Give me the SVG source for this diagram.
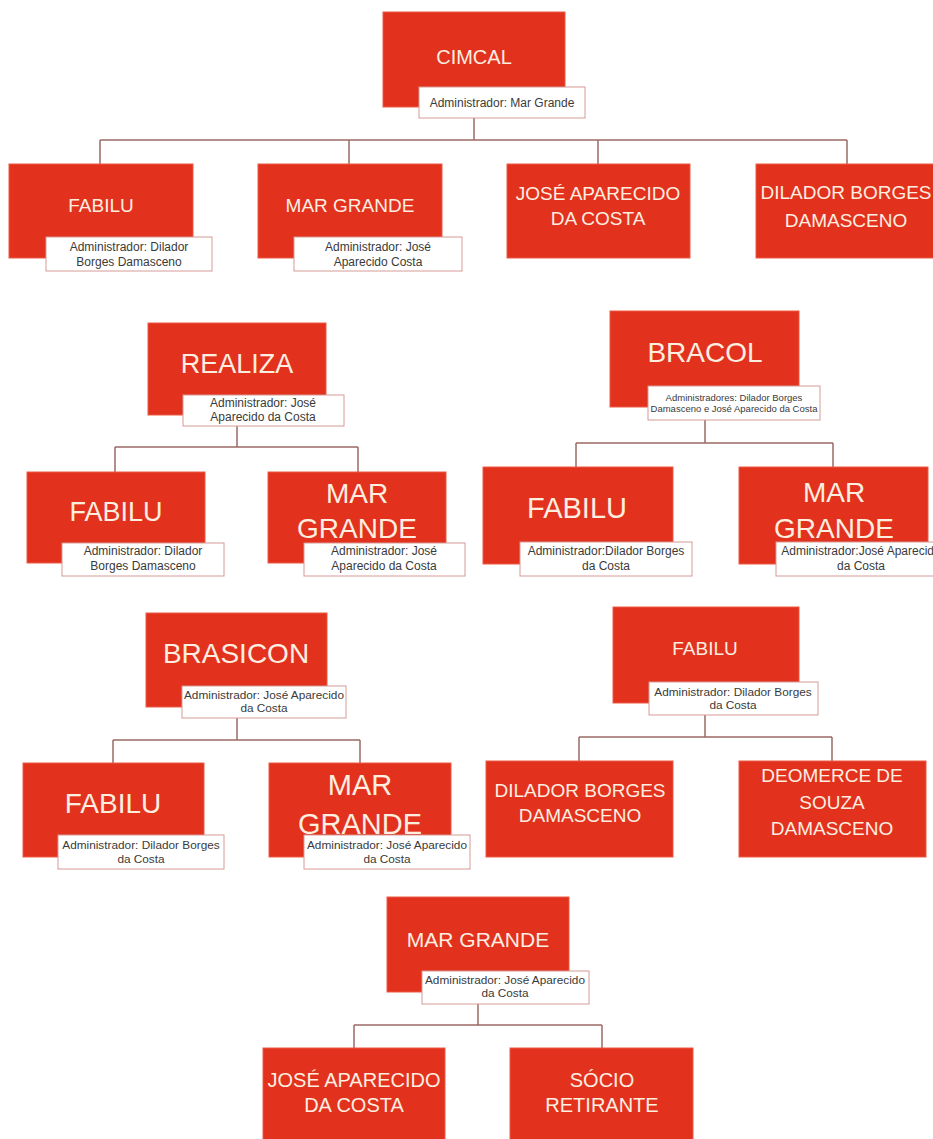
<svg xmlns="http://www.w3.org/2000/svg" width="933" height="1139" viewBox="0 0 933 1139">
<style>
.n{fill:#e2311d;stroke:#ec5a44;stroke-width:1}
.a{fill:#ffffff;stroke:#d69a98;stroke-width:1}
.t{fill:#fdeee0;font-family:"Liberation Sans",Arial,sans-serif;text-anchor:middle}
.s{fill:#3a3a3a;font-family:"Liberation Sans",Arial,sans-serif;text-anchor:middle}
.m{font-size:12px}
.k{font-size:11.8px}
.x{font-size:9.5px}
.c{fill:none;stroke:#9a6a64;stroke-width:1.5}
</style>
<rect width="933" height="1139" fill="#ffffff"/>
<g id="connectors">
<path class="c" d="M474 118V140M100 140H847M100 140V165M349 140V165M598 140V165M847 140V165"/>
<path class="c" d="M237 426V447M115 447H358M115 447V472M358 447V472"/>
<path class="c" d="M705 420V443M576 443H833M576 443V467M833 443V467"/>
<path class="c" d="M237 718V740M113 740H360M113 740V763M360 740V763"/>
<path class="c" d="M705 715V737M579 737H832M579 737V761M832 737V761"/>
<path class="c" d="M478 1004V1025M354 1025H602M354 1025V1048M602 1025V1048"/>
</g>
<g id="cimcal">
<rect class="n" x="383" y="12" width="182" height="95"/>
<text class="t" x="474" y="64" font-size="20">CIMCAL</text>
<rect class="a" x="419" y="87" width="166" height="31"/>
<text class="s m" x="502" y="107">Administrador: Mar Grande</text>
</g>
<g id="fabilu1">
<rect class="n" x="9" y="164" width="184" height="94"/>
<text class="t" x="101" y="212" font-size="19">FABILU</text>
<rect class="a" x="46" y="237" width="166" height="34"/>
<text class="s m" x="129" y="251">Administrador: Dilador</text>
<text class="s m" x="129" y="266">Borges Damasceno</text>
</g>
<g id="margrande1">
<rect class="n" x="258" y="164" width="184" height="94"/>
<text class="t" x="350" y="212" font-size="19">MAR GRANDE</text>
<rect class="a" x="294" y="237" width="168" height="34"/>
<text class="s m" x="378" y="251">Administrador: José</text>
<text class="s m" x="378" y="266">Aparecido Costa</text>
</g>
<g id="jose1">
<rect class="n" x="507" y="164" width="183" height="94"/>
<text class="t" x="598" y="200" font-size="19">JOSÉ APARECIDO</text>
<text class="t" x="598" y="225" font-size="19">DA COSTA</text>
</g>
<g id="dilador1">
<rect class="n" x="756" y="164" width="184" height="94"/>
<text class="t" x="846" y="199" font-size="19">DILADOR BORGES</text>
<text class="t" x="846" y="227" font-size="19">DAMASCENO</text>
</g>
<g id="realiza">
<rect class="n" x="148" y="323" width="178" height="92"/>
<text class="t" x="237" y="373" font-size="27">REALIZA</text>
<rect class="a" x="183" y="395" width="161" height="31"/>
<text class="s m" x="263" y="407">Administrador: José</text>
<text class="s m" x="263" y="421">Aparecido da Costa</text>
</g>
<g id="fabilu2">
<rect class="n" x="27" y="472" width="178" height="91"/>
<text class="t" x="116" y="521" font-size="27">FABILU</text>
<rect class="a" x="62" y="543" width="162" height="33"/>
<text class="s m" x="143" y="555">Administrador: Dilador</text>
<text class="s m" x="143" y="570">Borges Damasceno</text>
</g>
<g id="margrande2">
<rect class="n" x="268" y="472" width="178" height="91"/>
<text class="t" x="357" y="503" font-size="28">MAR</text>
<text class="t" x="357" y="538" font-size="28">GRANDE</text>
<rect class="a" x="304" y="543" width="161" height="33"/>
<text class="s m" x="384" y="555">Administrador: José</text>
<text class="s m" x="384" y="570">Aparecido da Costa</text>
</g>
<g id="bracol">
<rect class="n" x="610" y="311" width="189" height="96"/>
<text class="t" x="705" y="362" font-size="28">BRACOL</text>
<rect class="a" x="648" y="386" width="172" height="34"/>
<text class="s x" x="734" y="400.5">Administradores: Dilador Borges</text>
<text class="s x" x="734" y="412">Damasceno e José Aparecido da Costa</text>
</g>
<g id="fabilu3">
<rect class="n" x="483" y="467" width="190" height="97"/>
<text class="t" x="577" y="518" font-size="29">FABILU</text>
<rect class="a" x="520" y="542" width="172" height="34"/>
<text class="s m" x="606" y="555">Administrador:Dilador Borges</text>
<text class="s m" x="606" y="570">da Costa</text>
</g>
<g id="margrande3">
<rect class="n" x="739" y="467" width="189" height="97"/>
<text class="t" x="834" y="502" font-size="28">MAR</text>
<text class="t" x="834" y="538" font-size="28">GRANDE</text>
<rect class="a" x="776" y="542" width="170" height="34"/>
<text class="s m" x="861" y="555">Administrador:José Aparecido</text>
<text class="s m" x="861" y="570">da Costa</text>
</g>
<g id="brasicon">
<rect class="n" x="146" y="613" width="181" height="94"/>
<text class="t" x="236" y="663" font-size="28">BRASICON</text>
<rect class="a" x="182" y="686" width="164" height="32"/>
<text class="s k" x="264" y="699">Administrador: José Aparecido</text>
<text class="s k" x="264" y="712">da Costa</text>
</g>
<g id="fabilu4">
<rect class="n" x="23" y="763" width="181" height="94"/>
<text class="t" x="113" y="813" font-size="28">FABILU</text>
<rect class="a" x="58" y="835" width="166" height="34"/>
<text class="s k" x="141" y="849">Administrador: Dilador Borges</text>
<text class="s k" x="141" y="863">da Costa</text>
</g>
<g id="margrande4">
<rect class="n" x="269" y="763" width="182" height="94"/>
<text class="t" x="360" y="795" font-size="29">MAR</text>
<text class="t" x="360" y="834" font-size="29">GRANDE</text>
<rect class="a" x="304" y="835" width="166" height="34"/>
<text class="s k" x="387" y="849">Administrador: José Aparecido</text>
<text class="s k" x="387" y="863">da Costa</text>
</g>
<g id="fabilu5">
<rect class="n" x="613" y="607" width="186" height="96"/>
<text class="t" x="705" y="655" font-size="19">FABILU</text>
<rect class="a" x="649" y="682" width="169" height="33"/>
<text class="s k" x="733" y="696">Administrador: Dilador Borges</text>
<text class="s k" x="733" y="709">da Costa</text>
</g>
<g id="dilador5">
<rect class="n" x="486" y="761" width="187" height="96"/>
<text class="t" x="580" y="797" font-size="19">DILADOR BORGES</text>
<text class="t" x="580" y="822" font-size="19">DAMASCENO</text>
</g>
<g id="deomerce">
<rect class="n" x="739" y="761" width="187" height="96"/>
<text class="t" x="832" y="782" font-size="19">DEOMERCE DE</text>
<text class="t" x="832" y="809" font-size="19">SOUZA</text>
<text class="t" x="832" y="835" font-size="19">DAMASCENO</text>
</g>
<g id="margrande6">
<rect class="n" x="387" y="897" width="182" height="95"/>
<text class="t" x="478" y="947" font-size="21">MAR GRANDE</text>
<rect class="a" x="422" y="971" width="167" height="33"/>
<text class="s k" x="505" y="984">Administrador: José Aparecido</text>
<text class="s k" x="505" y="997">da Costa</text>
</g>
<g id="jose6">
<rect class="n" x="263" y="1048" width="182" height="95"/>
<text class="t" x="354" y="1087" font-size="20">JOSÉ APARECIDO</text>
<text class="t" x="354" y="1112" font-size="20">DA COSTA</text>
</g>
<g id="socio">
<rect class="n" x="510" y="1048" width="183" height="95"/>
<text class="t" x="602" y="1087" font-size="20">SÓCIO</text>
<text class="t" x="602" y="1112" font-size="20">RETIRANTE</text>
</g>
</svg>
